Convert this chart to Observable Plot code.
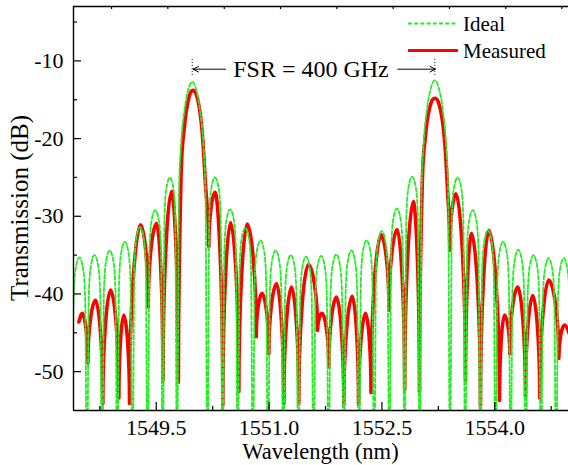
<!DOCTYPE html>
<html><head><meta charset="utf-8">
<script src="https://cdn.jsdelivr.net/npm/d3@7"></script>
<script src="https://cdn.jsdelivr.net/npm/@observablehq/plot@0.6"></script>
<style>
html,body{margin:0;padding:0;background:#fff;overflow:hidden}
svg{display:block}
</style></head><body><div id="chart"></div>
<script>
// ---- data ----
const idealWl = [
1548.377,1548.402,1548.427,1548.478,1548.528,1548.554,
1548.579,1548.604,1548.629,1548.679,1548.730,1548.755,
1548.780,1548.805,1548.831,1548.881,1548.932,1548.957,
1548.982,1549.007,1549.032,1549.083,1549.133,1549.158,
1549.184,1549.209,1549.234,1549.284,1549.335,1549.360,
1549.385,1549.410,1549.436,1549.486,1549.537,1549.562,
1549.587,1549.610,1549.633,1549.682,1549.729,1549.752,
1549.776,1549.802,1549.827,1549.877,1549.928,1549.978,1550.028,1550.079,1550.129,1550.154,
1550.180,1550.205,1550.230,1550.280,1550.331,1550.356,
1550.381,1550.406,1550.432,1550.482,1550.533,1550.558,
1550.583,1550.608,1550.633,1550.683,1550.734,1550.759,
1550.784,1550.809,1550.835,1550.885,1550.936,1550.961,
1550.986,1551.011,1551.036,1551.087,1551.137,1551.162,
1551.188,1551.213,1551.238,1551.288,1551.339,1551.364,
1551.389,1551.414,1551.440,1551.490,1551.541,1551.566,
1551.591,1551.616,1551.641,1551.691,1551.742,1551.767,
1551.792,1551.817,1551.843,1551.893,1551.944,1551.969,
1551.994,1552.019,1552.044,1552.095,1552.145,1552.170,
1552.196,1552.221,1552.246,1552.296,1552.347,1552.372,
1552.397,1552.422,1552.448,1552.498,1552.549,1552.574,
1552.599,1552.624,1552.649,1552.699,1552.750,1552.775,
1552.800,1552.825,1552.851,1552.901,1552.952,1552.977,
1553.002,1553.027,1553.052,1553.102,1553.153,1553.203,1553.253,1553.304,1553.354,1553.380,
1553.405,1553.430,1553.455,1553.506,1553.556,1553.581,
1553.607,1553.632,1553.657,1553.707,1553.758,1553.783,
1553.808,1553.833,1553.859,1553.909,1553.960,1553.985,
1554.010,1554.035,1554.060,1554.111,1554.161,1554.186,
1554.211,1554.236,1554.262,1554.312,1554.363,1554.388,
1554.413,1554.438,1554.463,1554.514,1554.564,1554.589,
1554.614,1554.639,1554.665,1554.715,1554.766,1554.791,
1554.816,1554.841,1554.866,1554.917,1554.967,1554.992,
1555.018];
const idealDb = [
-65,-40.3,-36.8,-35.3,-36.8,-40.3,
-65,-40.0,-36.5,-35.0,-36.5,-40.0,
-65,-39.4,-35.9,-34.4,-35.9,-39.4,
-65,-38.3,-34.8,-33.3,-34.8,-38.3,
-65,-36.4,-32.9,-31.4,-32.9,-36.4,
-65,-34.2,-30.7,-29.2,-30.7,-34.2,
-65,-30.0,-26.5,-25.0,-26.5,-30.0,
-65,-26.7,-21.2,-16.2,-13.6,-12.7,-13.6,-16.2,-21.2,-26.7,
-65,-30.0,-26.5,-25.0,-26.5,-30.0,
-65,-34.1,-30.6,-29.1,-30.6,-34.1,
-65,-36.5,-33.0,-31.5,-33.0,-36.5,
-65,-38.1,-34.6,-33.1,-34.6,-38.1,
-65,-39.4,-35.9,-34.4,-35.9,-39.4,
-65,-40.0,-36.5,-35.0,-36.5,-40.0,
-65,-40.2,-36.7,-35.2,-36.7,-40.2,
-65,-40.1,-36.6,-35.1,-36.6,-40.1,
-65,-39.9,-36.4,-34.9,-36.4,-39.9,
-65,-39.4,-35.9,-34.4,-35.9,-39.4,
-65,-38.1,-34.6,-33.1,-34.6,-38.1,
-65,-36.9,-33.4,-31.9,-33.4,-36.9,
-65,-34.0,-30.5,-29.0,-30.5,-34.0,
-65,-29.9,-26.4,-24.9,-26.4,-29.9,
-65,-26.5,-21.0,-16.0,-13.4,-12.5,-13.4,-16.0,-21.0,-26.5,
-65,-30.0,-26.5,-25.0,-26.5,-30.0,
-65,-34.2,-30.7,-29.2,-30.7,-34.2,
-65,-36.8,-33.3,-31.8,-33.3,-36.8,
-65,-38.3,-34.8,-33.3,-34.8,-38.3,
-65,-39.3,-35.8,-34.3,-35.8,-39.3,
-65,-40.0,-36.5,-35.0,-36.5,-40.0,
-65,-40.4,-36.9,-35.4,-36.9,-40.4,
-65,-40.4,-36.9,-35.4,-36.9,-40.4,
-65];
const measWl = [1548.471,1548.516,1548.591,1548.693,1548.790,1548.893,1549.003,1549.069,1549.145,1549.291,
1549.394,1549.504,1549.590,1549.703,1549.794,1549.827,1549.869,1549.923,1549.989,1550.056,
1550.109,1550.155,1550.199,1550.282,1550.385,1550.488,1550.598,1550.709,1550.829,1550.906,
1550.997,1551.099,1551.196,1551.298,1551.395,1551.522,1551.644,1551.704,1551.794,1551.896,
1551.993,1552.105,1552.189,1552.282,1552.355,1552.488,1552.594,1552.703,1552.803,1552.917,
1552.999,1553.033,1553.075,1553.130,1553.203,1553.276,1553.330,1553.374,1553.402,1553.485,
1553.611,1553.691,1553.810,1553.921,1554.063,1554.129,1554.200,1554.306,1554.408,1554.505,
1554.598,1554.718,1554.851,1554.927,1555.007];
const measDb = [-43.6,-42.5,-48.9,-40.8,-54.1,-39.5,-53.4,-42.7,-54.1,-31.1,
-41.6,-30.9,-51.1,-26.8,-51.4,-26.0,-19.0,-15.2,-13.8,-15.2,
-19.0,-26.0,-33.9,-26.9,-54.3,-30.8,-52.6,-31.0,-45.5,-39.9,
-47.7,-38.7,-54.1,-39.1,-54.1,-36.2,-44.7,-42.5,-49.4,-40.4,
-54.3,-40.3,-54.3,-42.5,-52.7,-32.4,-42.1,-31.7,-52.3,-28.1,
-52.6,-27.0,-20.0,-16.2,-14.8,-16.2,-20.0,-27.0,-34.4,-27.1,
-51.1,-32.2,-54.5,-31.8,-53.7,-42.7,-47.7,-39.1,-53.2,-40.2,
-53.4,-38.2,-48.3,-44.0,-45.5];

const xMajorTicks = [1549.5, 1551.0, 1552.5, 1554.0];
const xMinorTicks = [1548.75, 1550.25, 1551.75, 1553.25, 1554.75];
const xTopTicks = [1548.906, 1549.654, 1550.404, 1551.152, 1551.900, 1552.650, 1553.398, 1554.146, 1554.891];
const yMajorTicks = [-10, -20, -30, -40, -50];
const yMinorTicks = [-5, -15, -25, -35, -45];
const fsrPeaks = [1549.978, 1553.203];
const fsrArrows = [{from: 1550.421, to: 1549.99}, {from: 1552.711, to: 1553.21}];
const fsrCenter = 1551.557;
const fsrLevel = -11.07;
const fsrLabel = "FSR = 400 GHz";
const seriesNames = ["Ideal", "Measured"];
const xTitle = "Wavelength (nm)";
const yTitle = "Transmission (dB)";

// ---- layout ----
const W = 568, H = 465, mL = 73, mR = 0, mT = 6, mB = 55;
const pw = W - mL - mR, ph = H - mT - mB;
const xDomain = [1548.4, 1554.98], yDomain = [-55, -3];
const FONT = "'Liberation Serif', 'Times New Roman', serif";
const GREEN = "#22ee22", RED = "#ff0000";

// curve: vertical cusps at minima, rounded tops at maxima
function archCurve(context) {
  let pts;
  const k1 = 0.55, k2 = 0.42;
  return {
    areaStart() {}, areaEnd() {},
    lineStart() { pts = []; },
    point(x, y) { pts.push([+x, +y]); },
    lineEnd() {
      const n = pts.length;
      if (!n) return;
      context.moveTo(pts[0][0], pts[0][1]);
      if (n === 1) return;
      const type = pts.map((p, i) => {
        if (i === 0 || i === n - 1) return "mid";
        const a = pts[i - 1][1], b = pts[i + 1][1];
        if (p[1] >= a && p[1] >= b) return "dip";
        if (p[1] <= a && p[1] <= b) return "peak";
        return "mid";
      });
      const slope = pts.map((p, i) => {
        const a = pts[Math.max(0, i - 1)], b = pts[Math.min(n - 1, i + 1)];
        return (b[1] - a[1]) / (b[0] - a[0]);
      });
      for (let i = 0; i < n - 1; i++) {
        const A = pts[i], B = pts[i + 1];
        const dx = B[0] - A[0], dy = B[1] - A[1];
        let c1, c2;
        if (type[i] === "dip") c1 = [A[0], A[1] + dy * k1];
        else if (type[i] === "peak") c1 = [A[0] + dx * k2, A[1]];
        else c1 = [A[0] + dx / 3, A[1] + slope[i] * dx / 3];
        if (type[i + 1] === "dip") c2 = [B[0], B[1] - dy * k1];
        else if (type[i + 1] === "peak") c2 = [B[0] - dx * k2, B[1]];
        else c2 = [B[0] - dx / 3, B[1] - slope[i + 1] * dx / 3];
        context.bezierCurveTo(c1[0], c1[1], c2[0], c2[1], B[0], B[1]);
      }
    }
  };
}

const ideal = idealWl.map((x, i) => ({x, y: idealDb[i]}));
const meas = measWl.map((x, i) => ({x, y: measDb[i]}));

const plot = Plot.plot({
  width: W, height: H,
  marginLeft: mL, marginRight: mR, marginTop: mT, marginBottom: mB,
  style: {fontFamily: FONT, fontSize: "22px", background: "#fff", color: "#000", overflow: "hidden"},
  x: {domain: xDomain, label: null},
  y: {domain: yDomain, label: null},
  marks: [
    Plot.line(meas, {x: "x", y: "y", stroke: RED, strokeWidth: 3.6, curve: archCurve, clip: true}),
    Plot.line(ideal, {x: "x", y: "y", stroke: GREEN, strokeWidth: 1.8, strokeDasharray: "4,2.2", curve: "monotone-x", clip: true}),
    // frame (left, top, bottom)
    Plot.ruleX([xDomain[0]], {stroke: "#000", strokeWidth: 1.4}),
    Plot.ruleY(yDomain, {stroke: "#000", strokeWidth: 1.4}),
    // ticks (inward)
    Plot.ruleX(xMajorTicks, {stroke: "#000", strokeWidth: 1.2, insetTop: ph - 8}),
    Plot.ruleX(xMinorTicks, {stroke: "#000", strokeWidth: 1.2, insetTop: ph - 4}),
    Plot.ruleX(xTopTicks, {stroke: "#000", strokeWidth: 1.2, insetBottom: ph - 3}),
    Plot.ruleY(yMajorTicks, {stroke: "#000", strokeWidth: 1.2, insetRight: pw - 8}),
    Plot.ruleY(yMinorTicks, {stroke: "#000", strokeWidth: 1.2, insetRight: pw - 4}),
    Plot.axisX({ticks: xMajorTicks, tickSize: 0, tickPadding: 8.5, fontSize: 22, label: null, tickFormat: d => d.toFixed(1)}),
    Plot.axisY({ticks: yMajorTicks, tickSize: 0, tickPadding: 10, fontSize: 22, label: null, tickFormat: d => String(d)}),
    // FSR annotation
    Plot.ruleX(fsrPeaks, {y1: -9.8, y2: -12.0, stroke: "#000", strokeWidth: 1, strokeDasharray: "1,2"}),
    Plot.arrow(fsrArrows, {x1: "from", x2: "to", y1: fsrLevel, y2: fsrLevel, stroke: "#000", strokeWidth: 1, headLength: 9, headAngle: 55}),
    Plot.text([fsrLabel], {x: fsrCenter, y: fsrLevel, text: d => d, fontSize: 24, fill: "#000"})
  ]
});

document.getElementById("chart").appendChild(plot);
const svg = d3.select(plot);

// legend
const lg = svg.append("g").attr("font-family", FONT).attr("font-size", 21).attr("fill", "#000").attr("text-anchor", "start");
lg.append("line").attr("x1", 408).attr("x2", 456).attr("y1", 23.5).attr("y2", 23.5)
  .attr("stroke", GREEN).attr("stroke-width", 1.8).attr("stroke-dasharray", "4,2.2");
lg.append("text").attr("x", 463).attr("y", 30.5).text(seriesNames[0]);
lg.append("line").attr("x1", 408).attr("x2", 458).attr("y1", 50.5).attr("y2", 50.5)
  .attr("stroke", RED).attr("stroke-width", 3.2);
lg.append("text").attr("x", 463).attr("y", 58).text(seriesNames[1]);

// axis titles
svg.append("text").attr("x", mL + pw / 2).attr("y", 459).attr("text-anchor", "middle")
  .attr("font-family", FONT).attr("font-size", 22.5).attr("fill", "#000").text(xTitle);
svg.append("text").attr("transform", `translate(28,${mT + ph / 2}) rotate(-90)`).attr("text-anchor", "middle")
  .attr("font-family", FONT).attr("font-size", 25).attr("fill", "#000").text(yTitle);
</script></body></html>
